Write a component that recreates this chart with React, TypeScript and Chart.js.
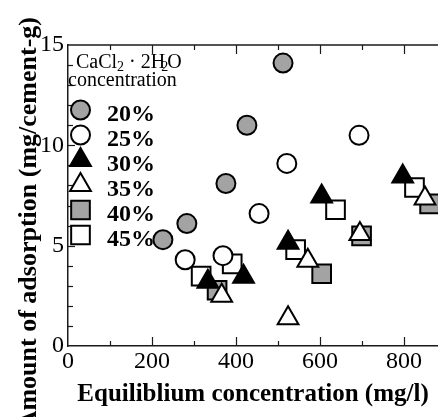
import React, { useEffect, useRef } from 'react';
import { Chart, registerables } from 'chart.js';
import { drawPoint } from 'chart.js/helpers';

Chart.register(...registerables);

const SERIF = "'Liberation Serif', 'Times New Roman', Times, serif";
const AXIS = '#1a1a1a';
const GRAY = '#a3a3a3';

// CaCl2·2H2O concentration series
const seriesLabels = ['20%', '25%', '30%', '35%', '40%', '45%'];

// Equilibrium concentration (mg/l) and amount of adsorption (mg/cement-g)
const x20 = [226, 283, 376, 426, 512];
const y20 = [5.3, 6.1, 8.1, 11.0, 14.1];
const x25 = [279, 369, 455, 521, 693];
const y25 = [4.3, 4.5, 6.6, 9.1, 10.5];
const x30 = [333, 418, 524, 604, 797];
const y30 = [3.2, 3.45, 5.15, 7.45, 8.45];
const x35 = [366, 524, 571, 695, 850];
const y35 = [2.5, 1.38, 4.25, 5.58, 7.35];
const x40 = [355, 604, 699, 861];
const y40 = [2.78, 3.6, 5.49, 7.08];
const x45 = [317, 391, 542, 637, 825];
const y45 = [3.48, 4.09, 4.8, 6.79, 7.9];

const seriesX = [x20, x25, x30, x35, x40, x45];
const seriesY = [y20, y25, y30, y35, y40, y45];

// labelled ticks; the rest are minor
const xTickLabels = [0, 200, 400, 600, 800];
const yTickLabels = [0, 5, 10, 15];

const X_MAX = 881;
const Y_MAX = 15;

const seriesStyle = [
  { pointStyle: 'circle', fill: GRAY, radius: 9.5, order: 4 },
  { pointStyle: 'circle', fill: '#ffffff', radius: 9.5, order: 3 },
  { pointStyle: 'triangle', fill: '#000000', radius: 12, order: 2 },
  { pointStyle: 'triangle', fill: '#ffffff', radius: 12, order: 1 },
  { pointStyle: 'rect', fill: GRAY, radius: 13.2, order: 6 },
  { pointStyle: 'rect', fill: '#ffffff', radius: 13.2, order: 5 },
];

const MARKER_BORDER = 2;

// inward tick marks on the left, bottom and top edges, plus the top frame line
const innerTicks = {
  id: 'innerTicks',
  beforeDatasetsDraw(chart: any) {
    const { ctx, chartArea } = chart;
    const { left, right, top, bottom } = chartArea;
    const xs = chart.scales.x;
    const ys = chart.scales.y;
    const seg = (x1: number, y1: number, x2: number, y2: number) => {
      ctx.beginPath();
      ctx.moveTo(x1, y1);
      ctx.lineTo(x2, y2);
      ctx.stroke();
    };
    ctx.save();
    ctx.strokeStyle = AXIS;
    ctx.lineWidth = 1.2;
    xs.ticks.forEach((t: any) => {
      if (t.value <= 0) return;
      const px = Math.round(xs.getPixelForValue(t.value)) + 0.5;
      const len = xTickLabels.includes(t.value) ? 9 : 5;
      seg(px, bottom, px, bottom - len);
      seg(px, top, px, top + len);
    });
    ys.ticks.forEach((t: any) => {
      if (t.value <= 0 || t.value >= Y_MAX) return;
      const py = Math.round(ys.getPixelForValue(t.value)) + 0.5;
      const len = yTickLabels.includes(t.value) ? 7 : 5;
      seg(left, py, left + len, py);
    });
    ctx.lineWidth = 1.5;
    seg(left, top, right, top);
    ctx.restore();
  },
};

// legend with title inside the plot, drawn beneath the markers
const innerLegend = {
  id: 'innerLegend',
  beforeDatasetsDraw(chart: any) {
    const { ctx } = chart;
    ctx.save();
    ctx.fillStyle = '#000';
    ctx.textAlign = 'left';
    ctx.textBaseline = 'alphabetic';
    const F20 = `20px ${SERIF}`;
    const F14 = `14px ${SERIF}`;
    let cx = 76;
    const base = 68;
    const part = (t: string, font: string, dy: number, kern: number) => {
      ctx.font = font;
      ctx.fillText(t, cx, base + dy);
      cx += ctx.measureText(t).width + kern;
    };
    part('CaCl', F20, 0, 0);
    part('2', F14, 3, 0);
    part(' · 2H', F20, 0, -4);
    part('2', F14, 3, -1);
    part('O', F20, 0, 0);
    ctx.font = F20;
    ctx.fillText('concentration', 68, 86);

    const mx = 80.5;
    seriesLabels.forEach((label, i) => {
      const st = seriesStyle[i];
      const my = 110 + i * 25;
      ctx.fillStyle = st.fill;
      ctx.strokeStyle = '#000';
      ctx.lineWidth = MARKER_BORDER;
      drawPoint(ctx, { pointStyle: st.pointStyle, rotation: 0, radius: st.radius, borderWidth: MARKER_BORDER } as any, mx, my);
      ctx.fillStyle = '#000';
      ctx.font = `bold 24px ${SERIF}`;
      ctx.fillText(label, 107, my + 11);
    });
    ctx.restore();
  },
};

// y-axis title
const yTitle = {
  id: 'yTitle',
  afterDraw(chart: any) {
    const { ctx } = chart;
    ctx.save();
    ctx.translate(36, 17);
    ctx.rotate(-Math.PI / 2);
    ctx.fillStyle = '#000';
    ctx.font = `bold 26px ${SERIF}`;
    ctx.textAlign = 'right';
    ctx.textBaseline = 'alphabetic';
    ctx.fillText('Amount of adsorption (mg/cement-g)', 0, 0);
    ctx.restore();
  },
};

export default function App() {
  const canvasRef = useRef<HTMLCanvasElement | null>(null);

  useEffect(() => {
    document.body.style.margin = '0';
    const canvas = canvasRef.current;
    if (!canvas) return;

    const datasets = seriesLabels.map((label, i) => {
      const st = seriesStyle[i];
      return {
        label,
        data: seriesX[i].map((x, j) => ({ x, y: seriesY[i][j] })),
        pointStyle: st.pointStyle,
        pointRadius: st.radius,
        pointHoverRadius: st.radius,
        pointBackgroundColor: st.fill,
        pointBorderColor: '#000',
        pointBorderWidth: MARKER_BORDER,
        order: st.order,
      };
    });

    const chart = new Chart(canvas, {
      type: 'scatter',
      data: { datasets } as any,
      options: {
        responsive: false,
        animation: false,
        devicePixelRatio: 1,
        events: [],
        layout: { autoPadding: false, padding: { top: 45, left: 0, right: 0, bottom: 0 } },
        plugins: {
          legend: { display: false },
          tooltip: { enabled: false },
        },
        scales: {
          x: {
            type: 'linear',
            min: 0,
            max: X_MAX,
            afterFit: (s: any) => {
              s.height = 71;
            },
            grid: { display: false, drawTicks: false },
            border: { display: true, color: AXIS, width: 1.5 },
            ticks: {
              stepSize: 100,
              autoSkip: false,
              includeBounds: false,
              maxRotation: 0,
              padding: 4,
              color: '#000',
              font: { family: SERIF, size: 24, lineHeight: 1 },
              callback: (v: any) => (xTickLabels.includes(Number(v)) ? String(v) : ''),
            },
            title: {
              display: true,
              text: 'Equiliblium concentration (mg/l)',
              color: '#000',
              font: { family: SERIF, size: 25, weight: 'bold', lineHeight: 1 },
              padding: { top: 0, bottom: 10 },
            },
          },
          y: {
            type: 'linear',
            min: 0,
            max: Y_MAX,
            afterFit: (s: any) => {
              s.width = 68;
            },
            grid: { display: false, drawTicks: false },
            border: { display: true, color: AXIS, width: 1.5 },
            ticks: {
              stepSize: 1,
              autoSkip: false,
              padding: 4,
              color: '#000',
              font: { family: SERIF, size: 24, lineHeight: 1 },
              callback: (v: any) => (yTickLabels.includes(Number(v)) ? String(v) : ''),
            },
          },
        },
      } as any,
      plugins: [innerTicks, innerLegend, yTitle],
    });

    return () => chart.destroy();
  }, []);

  return (
    <div style={{ width: 438, height: 417 }}>
      <canvas ref={canvasRef} width={438} height={417} style={{ display: 'block' }} />
    </div>
  );
}
